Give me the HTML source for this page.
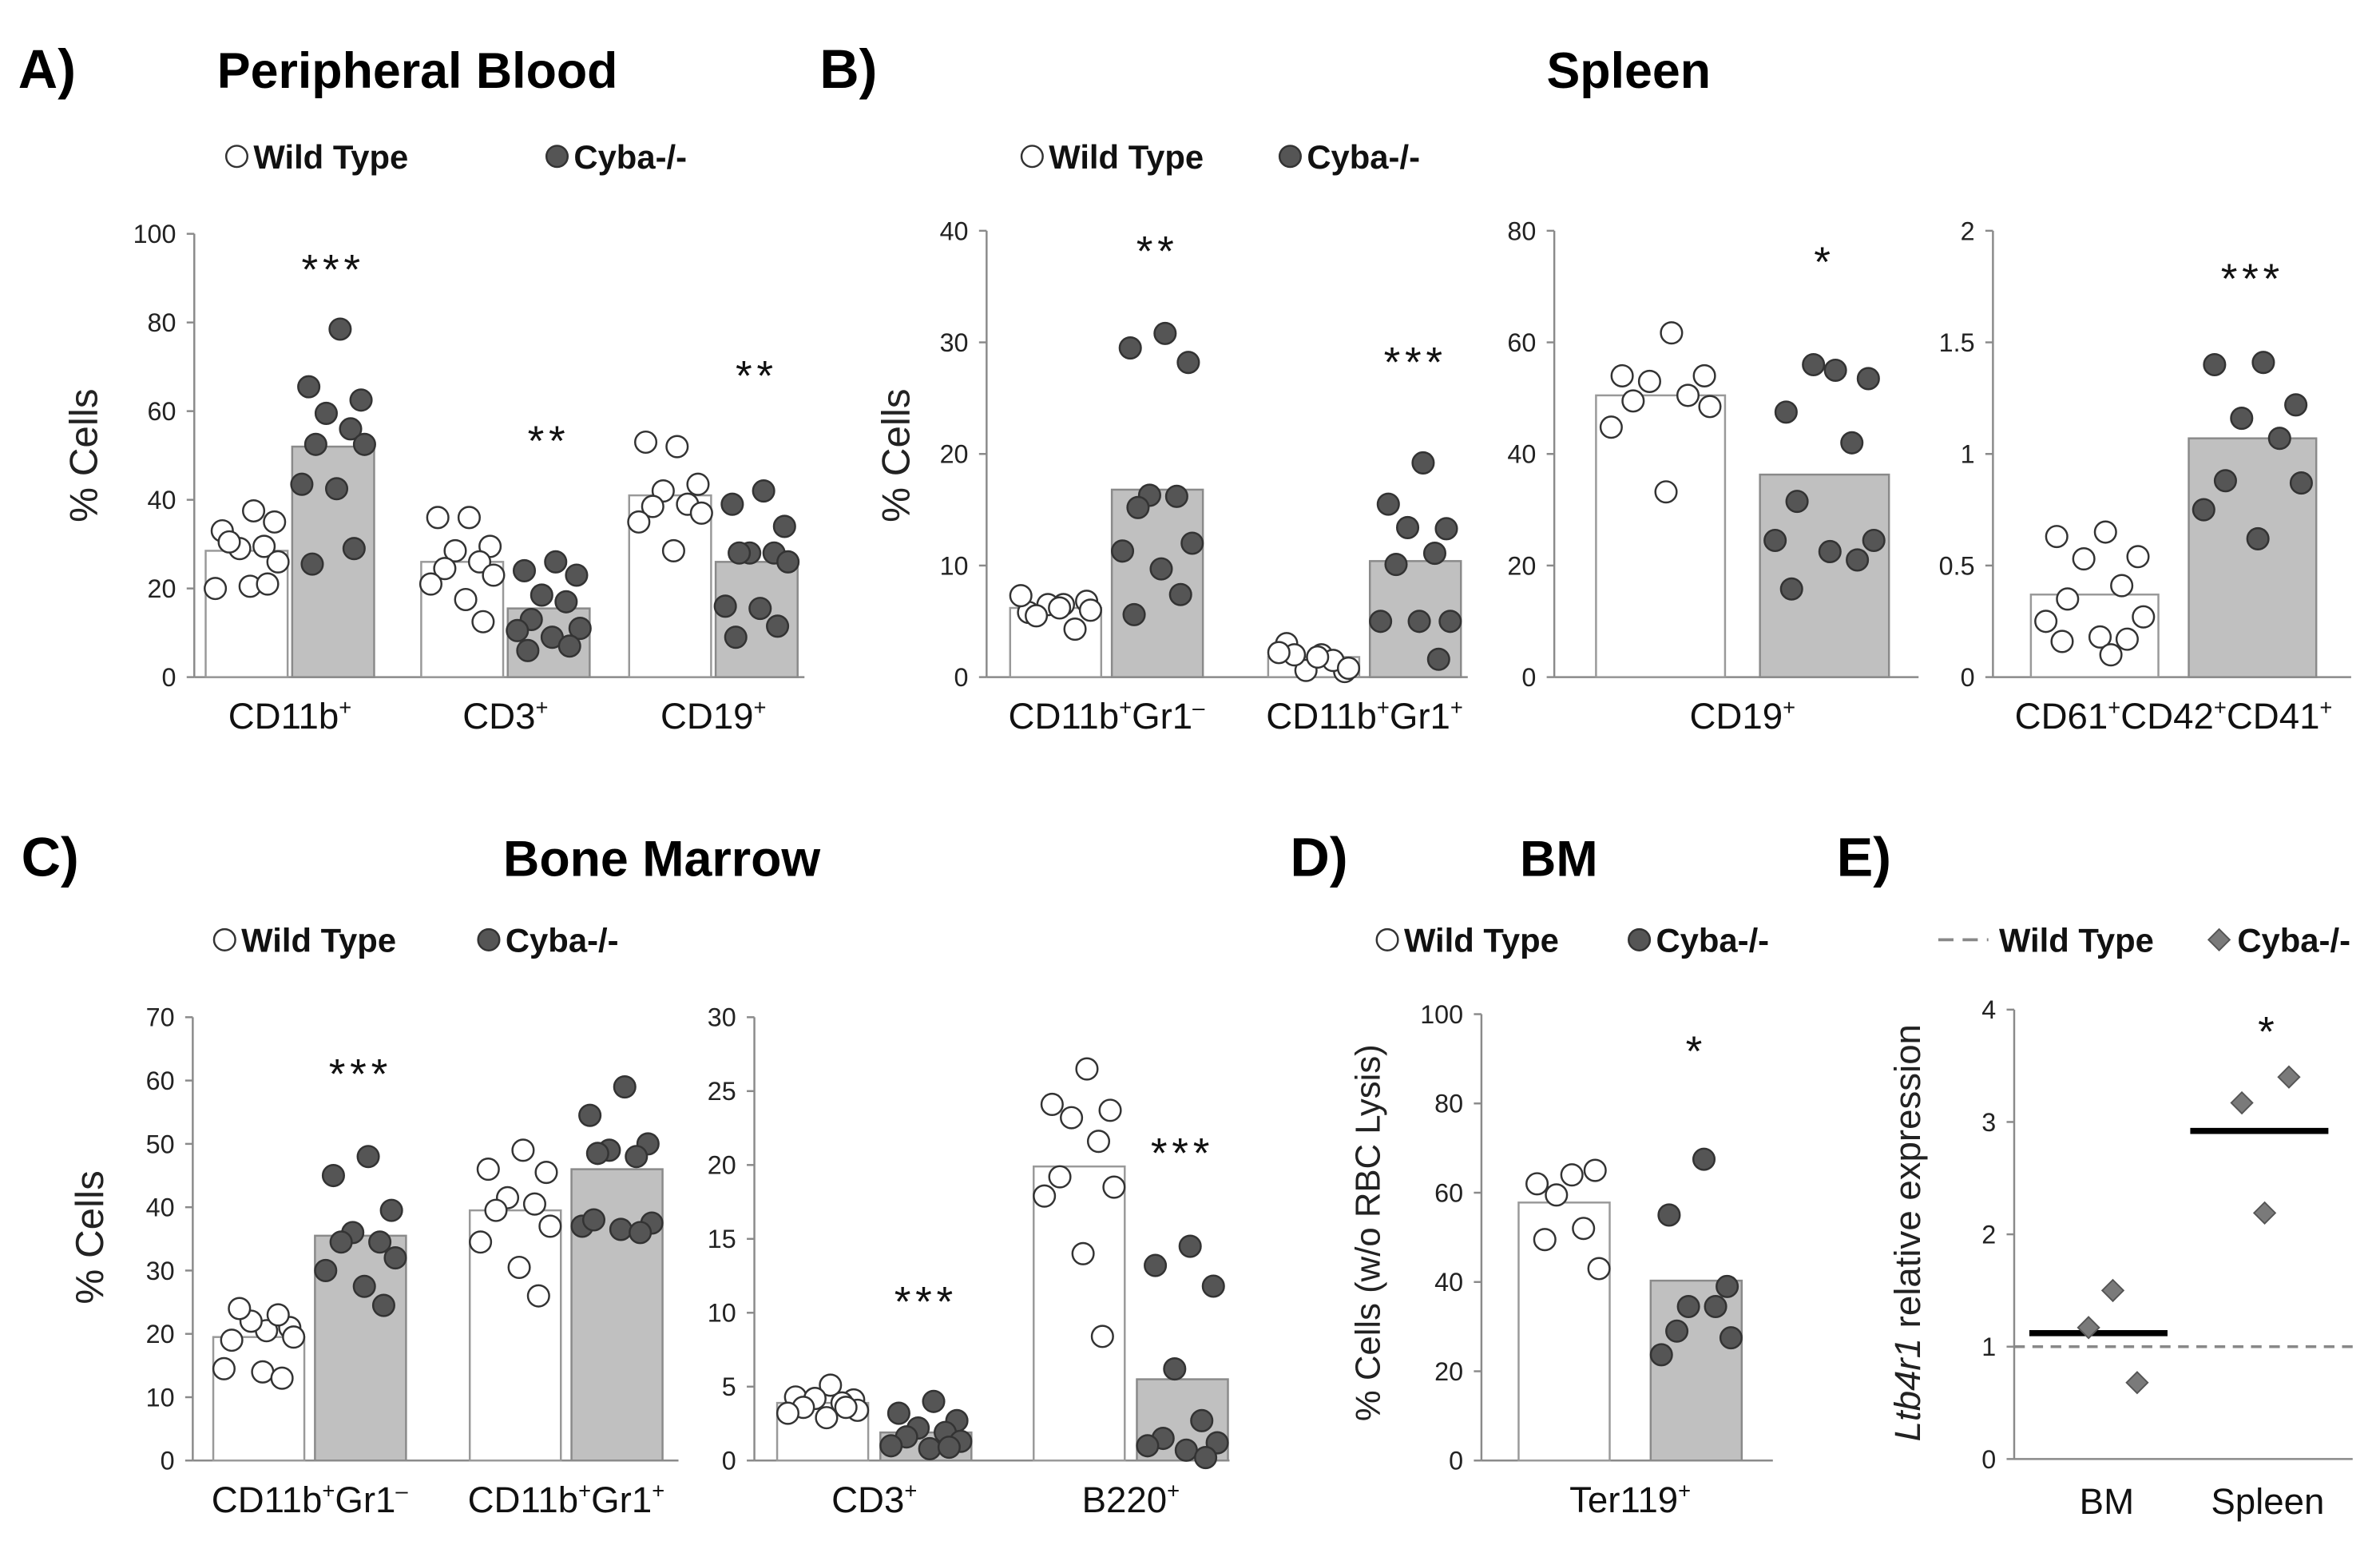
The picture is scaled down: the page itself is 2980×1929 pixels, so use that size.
<!DOCTYPE html>
<html><head><meta charset="utf-8"><style>
html,body{margin:0;padding:0;background:#fff;}
svg{display:block;}
text{font-family:"Liberation Sans",sans-serif;}
</style></head><body>
<svg id="fig" width="2980" height="1929" viewBox="0 0 1568 1015" preserveAspectRatio="none" xmlns="http://www.w3.org/2000/svg">
<g id="static">
<text x="12" y="58" font-size="36" font-weight="bold">A)</text>
<text x="143" y="58" font-size="33" font-weight="bold">Peripheral Blood</text>
<text x="540" y="58" font-size="36" font-weight="bold">B)</text>
<text x="1073" y="58" font-size="33" font-weight="bold" text-anchor="middle">Spleen</text>
<text x="14" y="577" font-size="36" font-weight="bold">C)</text>
<text x="436" y="577" font-size="33" font-weight="bold" text-anchor="middle">Bone Marrow</text>
<text x="850" y="577" font-size="36" font-weight="bold">D)</text>
<text x="1027" y="577" font-size="33" font-weight="bold" text-anchor="middle">BM</text>
<text x="1210" y="577" font-size="36" font-weight="bold">E)</text>
</g>
</svg>
<script>
// ---- data (Panel A: Peripheral Blood) ----
const catsA = ["CD11b", "CD3", "CD19"];
const barsA_wt = [28.5, 26, 41];
const barsA_ko = [52, 15.5, 26];
const ptsA_wt = [[37.5,33,35,29,29.5,30.5,26,20,20.5,21],[36,36,29.5,28.5,26,24.5,23,21,17.5,12.5],[52,53,43.5,42,39,38.5,37,35,28.5]];
const ptsA_ko = [[78.5,65.5,62.5,59.5,56,52.5,52.5,43.5,42.5,29,25.5],[26,24,23,18.5,17,13,11,10.5,9,7,6],[42,39,34,28,28,28,26,16,15.5,11.5,9]];
const ticksA = [0,20,40,60,80,100];
const starsA = ["***","**","**"];
// ---- Panel B1 (Spleen myeloid) ----
const catsB1 = ["CD11b+Gr1-", "CD11b+Gr1+"];
const barsB1_wt = [6.2, 1.8];
const barsB1_ko = [16.8, 10.4];
const ptsB1_wt = [[6.5,5.8,6.8,6.5,4.3,5.5,6,7.3,6.2],[2,3,0.5,0.6,1.5,2,0.8,2.2,1.8]];
const ptsB1_ko = [[30.8,29.5,28.2,16.3,16.2,15.2,12,11.3,9.7,7.4,5.6],[19.2,15.5,13.3,13.4,11.1,10.1,5,5,5,1.6]];
const ticksB1 = [0,10,20,30,40];
const starsB1 = ["**","***"];
// ---- Panel B2 (Spleen CD19) ----
const catsB2 = ["CD19"];
const barsB2_wt = [50.5];
const barsB2_ko = [36.3];
const ptsB2_wt = [[61.7,54,54,53,50.5,49.5,48.5,44.8,33.2]];
const ptsB2_ko = [[55,47.5,53.5,56,42,31.5,24.5,24.5,22.5,21,15.8]];
const ticksB2 = [0,20,40,60,80];
const starsB2 = ["*"];
// ---- Panel B3 (Spleen platelets) ----
const catsB3 = ["CD61CD42CD41"];
const barsB3_wt = [0.37];
const barsB3_ko = [1.07];
const ptsB3_wt = [[0.65,0.63,0.54,0.53,0.41,0.35,0.27,0.25,0.18,0.17,0.16,0.1]];
const ptsB3_ko = [[1.41,1.4,1.22,1.16,1.07,0.88,0.87,0.75,0.62]];
const ticksB3 = [0,0.5,1,1.5,2];
const starsB3 = ["***"];
// ---- Panel C1 (BM myeloid) ----
const catsC1 = ["CD11b+Gr1-", "CD11b+Gr1+"];
const barsC1_wt = [19.5, 39.5];
const barsC1_ko = [35.5, 46];
const ptsC1_wt = [[20.5,19,21,22,23,24,19.5,14.5,14,13],[49,46,45.5,41.5,40.5,39.5,37,34.5,30.5,26]];
const ptsC1_ko = [[48,45,39.5,36,34.5,34.5,32,30,27.5,24.5],[59,54.5,50,49,48,48.5,37.5,37,36.5,36,38]];
const ticksC1 = [0,10,20,30,40,50,60,70];
const starsC1 = ["***",""];
// ---- Panel C2 (BM lymphoid) ----
const catsC2 = ["CD3", "B220"];
const barsC2_wt = [3.9, 19.9];
const barsC2_ko = [1.9, 5.5];
const ptsC2_wt = [[5.1,4.3,4.1,4.2,3.9,3.6,3.4,3.2,2.9,3.6],[26.5,24.1,23.7,23.2,21.6,19.2,18.5,17.9,14,8.4]];
const ptsC2_ko = [[4,3.2,2.7,2.2,1.9,1.6,1.3,1.0,0.8,0.9],[14.5,13.2,11.8,6.2,2.7,1.5,1.2,1.0,0.7,0.2]];
const ticksC2 = [0,5,10,15,20,25,30];
const starsC2 = ["***","***"];
// ---- Panel D ----
const catsD = ["Ter119"];
const barsD_wt = [57.8];
const barsD_ko = [40.3];
const ptsD_wt = [[64,62,65,59.5,52,49.5,43]];
const ptsD_ko = [[67.5,55,39,34.5,34.5,29,27.5,23.7]];
const ticksD = [0,20,40,60,80,100];
const starsD = ["*"];
// ---- Panel E ----
const catsE = ["BM", "Spleen"];
const meansE = [1.12, 2.92];
const ptsE = [[1.17,1.5,0.68],[3.17,3.4,2.19]];
const ticksE = [0,1,2,3,4];
const wtLevelE = [1];
const starsE = ["","*"];

const NS = "http://www.w3.org/2000/svg";
const svg = document.getElementById("fig");
function mk(tag, attrs, parent){
  const e = document.createElementNS(NS, tag);
  for (const k in attrs) e.setAttribute(k, attrs[k]);
  (parent||svg).appendChild(e);
  return e;
}
function supLabel(g, x, y, str, size){
  const t = mk("text",{x:x,y:y,"font-size":size,"text-anchor":"middle",fill:"#111"},g);
  
  
  const parts = str.match(/[^+\-]+|[+\-]/g);
  let sup=false;
  parts.forEach(p=>{
    const ts = document.createElementNS(NS,"tspan");
    if (p==="+"||p==="-"){
      ts.textContent = p==="+"?"+":"\u2012";
      ts.setAttribute("font-size", size*0.6);
      ts.setAttribute("dy", -size*0.38);
      sup=true;
    } else {
      ts.textContent = p;
      if (sup){ ts.setAttribute("dy", size*0.38); sup=false; }
    }
    t.appendChild(ts);
  });
  return t;
}
function yAxis(g, ax, ticks){
  const line = mk("line",{x1:ax.x0,y1:ax.yTop,x2:ax.x0,y2:ax.yBot,stroke:"#8a8a8a","stroke-width":1.3},g);
  
  
  const xl = mk("line",{x1:ax.x0,y1:ax.yBot,x2:ax.x1,y2:ax.yBot,stroke:"#8a8a8a","stroke-width":1.3},g);
  
  
  ticks.forEach(v=>{
    const y = ax.y(v);
    const tk = mk("line",{x1:ax.x0-5,y1:y,x2:ax.x0,y2:y,stroke:"#8a8a8a","stroke-width":1.3},g);
    
    
    const tl = mk("text",{x:ax.x0-12,y:y+6,"font-size":17,"text-anchor":"end",fill:"#222"},g);
    tl.textContent = String(v);
    
    
  });
}
function jitter(i, w){
  const pattern = [0.1,-0.35,0.4,-0.1,0.25,-0.25,0.45,-0.45,0.05,0.3,-0.3,0.15];
  return pattern[i % pattern.length] * w;
}
function barChart(name, cfg){
  const g = mk("g",{});
  
  
  const ax = cfg.ax;
  ax.y = v => ax.yBot - v / (cfg.ticks[cfg.ticks.length-1]) * (ax.yBot - ax.yTop);
  yAxis(g, ax, cfg.ticks);
  const bw = cfg.bw;
  cfg.cats.forEach((c, i)=>{
    const gc = cfg.centers[i];
    const cxs = [gc - cfg.gap/2 - bw/2, gc + cfg.gap/2 + bw/2];
    [[cfg.wt, cfg.pwt, "#fff", "#999", "wt"], [cfg.ko, cfg.pko, "#c0c0c0", "#8a8a8a", "ko"]].forEach((s, k)=>{
      const cx = cxs[k];
      const yv = ax.y(s[0][i]);
      const r = mk("rect",{x:cx-bw/2,y:yv,width:bw,height:ax.yBot-yv,fill:s[2],stroke:s[3],"stroke-width":1.3},g);
      
      
      const pts = s[1][i];
      pts.forEach((v, j)=>{
        const c2 = mk("circle",{cx:cx + jitter(j, bw*0.85), cy:ax.y(v), r:7,
          fill: k===0 ? "#fff" : "#555", stroke:"#333","stroke-width":1.3},g);
        
        
      });
    });
    if (cfg.stars[i]){
      const st = mk("text",{x:cxs[1],y:cfg.starY[i],"font-size":28,"text-anchor":"middle","letter-spacing":3,fill:"#111"},g);
      st.textContent = cfg.stars[i];
      
      
    }
    supLabel(g, gc, ax.yBot + 34, cfg.labels[i], 24);
  });
  return g;
}
function legend(name, x, y, kx){
  const g = mk("g",{});
  
  
  const c1 = mk("circle",{cx:x,cy:y,r:7,fill:"#fff",stroke:"#333","stroke-width":1.3},g);
  
  
  const t1 = mk("text",{x:x+11,y:y+8,"font-size":22,"font-weight":"bold",fill:"#111"},g);
  t1.textContent = "Wild Type";
  
  
  const c2 = mk("circle",{cx:kx,cy:y,r:7,fill:"#555",stroke:"#333","stroke-width":1.3},g);
  
  
  const t2 = mk("text",{x:kx+11,y:y+8,"font-size":22,"font-weight":"bold",fill:"#111"},g);
  t2.textContent = "Cyba-/-";
  
  
}
function yTitle(name, x, y, txt, size){
  const t = mk("text",{x:x,y:y,"font-size":size,"text-anchor":"middle",fill:"#222",transform:"rotate(-90 "+x+" "+y+")"});
  t.textContent = txt;
  
  
  return t;
}

legend("legend-a", 156, 103, 367);
legend("legend-b", 680, 103, 850);
legend("legend-c", 148, 619, 322);
legend("legend-d", 914, 619, 1080);
yTitle("y-axis-title-a", 64, 300, "% Cells", 26);
yTitle("y-axis-title-b", 599, 300, "% Cells", 26);
yTitle("y-axis-title-c", 68, 815, "% Cells", 26);
yTitle("y-axis-title-d", 909, 812, "% Cells (w/o RBC Lysis)", 23);

barChart("chart-a", {ax:{x0:128,x1:530,yTop:154,yBot:446}, ticks:ticksA, cats:catsA, labels:["CD11b+","CD3+","CD19+"],
  wt:barsA_wt, ko:barsA_ko, pwt:ptsA_wt, pko:ptsA_ko, centers:[191,333,470], bw:54, gap:3, stars:starsA, starY:[187,300,257]});
barChart("chart-b-myeloid", {ax:{x0:650,x1:967,yTop:152,yBot:446}, ticks:ticksB1, cats:catsB1, labels:["CD11b+Gr1-","CD11b+Gr1+"],
  wt:barsB1_wt, ko:barsB1_ko, pwt:ptsB1_wt, pko:ptsB1_ko, centers:[729,899], bw:60, gap:7, stars:starsB1, starY:[175,248]});
barChart("chart-b-cd19", {ax:{x0:1024,x1:1264,yTop:152,yBot:446}, ticks:ticksB2, cats:catsB2, labels:["CD19+"],
  wt:barsB2_wt, ko:barsB2_ko, pwt:ptsB2_wt, pko:ptsB2_ko, centers:[1148], bw:85, gap:23, stars:starsB2, starY:[182]});
barChart("chart-b-platelets", {ax:{x0:1313,x1:1549,yTop:152,yBot:446}, ticks:ticksB3, cats:catsB3, labels:["CD61+CD42+CD41+"],
  wt:barsB3_wt, ko:barsB3_ko, pwt:ptsB3_wt, pko:ptsB3_ko, centers:[1432], bw:84, gap:20, stars:starsB3, starY:[193]});
barChart("chart-c-myeloid", {ax:{x0:127,x1:447,yTop:670,yBot:962}, ticks:ticksC1, cats:catsC1, labels:["CD11b+Gr1-","CD11b+Gr1+"],
  wt:barsC1_wt, ko:barsC1_ko, pwt:ptsC1_wt, pko:ptsC1_ko, centers:[204,373], bw:60, gap:7, stars:starsC1, starY:[717,0]});
barChart("chart-c-lymphoid", {ax:{x0:497,x1:810,yTop:670,yBot:962}, ticks:ticksC2, cats:catsC2, labels:["CD3+","B220+"],
  wt:barsC2_wt, ko:barsC2_ko, pwt:ptsC2_wt, pko:ptsC2_ko, centers:[576,745], bw:60, gap:8, stars:starsC2, starY:[867,769]});
barChart("chart-d", {ax:{x0:976,x1:1168,yTop:668,yBot:962}, ticks:ticksD, cats:catsD, labels:["Ter119+"],
  wt:barsD_wt, ko:barsD_ko, pwt:ptsD_wt, pko:ptsD_ko, centers:[1074], bw:60, gap:27, stars:starsD, starY:[702]});

// ---- Panel E ----
(function(){
  const g = mk("g",{});
  
  
  const ax = {x0:1327, x1:1550, yTop:665, yBot:961};
  ax.y = v => ax.yBot - v / ticksE[ticksE.length-1] * (ax.yBot - ax.yTop);
  yAxis(g, ax, ticksE);
  const wl = mk("line",{x1:ax.x0,y1:ax.y(wtLevelE[0]),x2:ax.x1,y2:ax.y(wtLevelE[0]),stroke:"#888","stroke-width":1.8,"stroke-dasharray":"7 5"},g);
  
  
  const centers = [1384, 1490];
  const offs = [[-8, 8, 24], [-13, 18, 2]];
  catsE.forEach((c, i)=>{
    const cx = centers[i];
    const ml = mk("line",{x1:cx-47,y1:ax.y(meansE[i]),x2:cx+44,y2:ax.y(meansE[i]),stroke:"#000","stroke-width":4},g);
    
    
    ptsE[i].forEach((v, j)=>{
      const px = cx + offs[i][j % 3];
      const py = ax.y(v);
      const d = mk("polygon",{points:(px)+","+(py-7)+" "+(px+7)+","+py+" "+px+","+(py+7)+" "+(px-7)+","+py,fill:"#7a7a7a",stroke:"#555","stroke-width":1},g);
      
      
    });
    if (starsE[i]){
      const st = mk("text",{x:cx+3,y:ax.yTop+24,"font-size":28,"text-anchor":"middle",fill:"#111"},g);
      st.textContent = starsE[i];
      
      
    }
    const lb = mk("text",{x:cx+4,y:ax.yBot+36,"font-size":24,"text-anchor":"middle",fill:"#111"},g);
    lb.textContent = c;
    
    
  });
  const t = mk("text",{x:1265,y:812,"font-size":24,"text-anchor":"middle",fill:"#222",transform:"rotate(-90 1265 812)"});
  
  
  const a = document.createElementNS(NS,"tspan"); a.setAttribute("font-style","italic"); a.textContent = "Ltb4r1";
  const b = document.createElementNS(NS,"tspan"); b.textContent = " relative expression";
  t.appendChild(a); t.appendChild(b);
  const lg = mk("g",{});
  
  
  const dl = mk("line",{x1:1277,y1:619,x2:1310,y2:619,stroke:"#888","stroke-width":2,"stroke-dasharray":"10 6"},lg);
  
  
  const t1 = mk("text",{x:1317,y:627,"font-size":22,"font-weight":"bold",fill:"#111"},lg);
  t1.textContent = "Wild Type";
  
  
  const dm = mk("polygon",{points:"1462,612 1469,619 1462,626 1455,619",fill:"#7a7a7a",stroke:"#555"},lg);
  
  
  const t2 = mk("text",{x:1474,y:627,"font-size":22,"font-weight":"bold",fill:"#111"},lg);
  t2.textContent = "Cyba-/-";
  
  
})();
</script>
</body></html>
